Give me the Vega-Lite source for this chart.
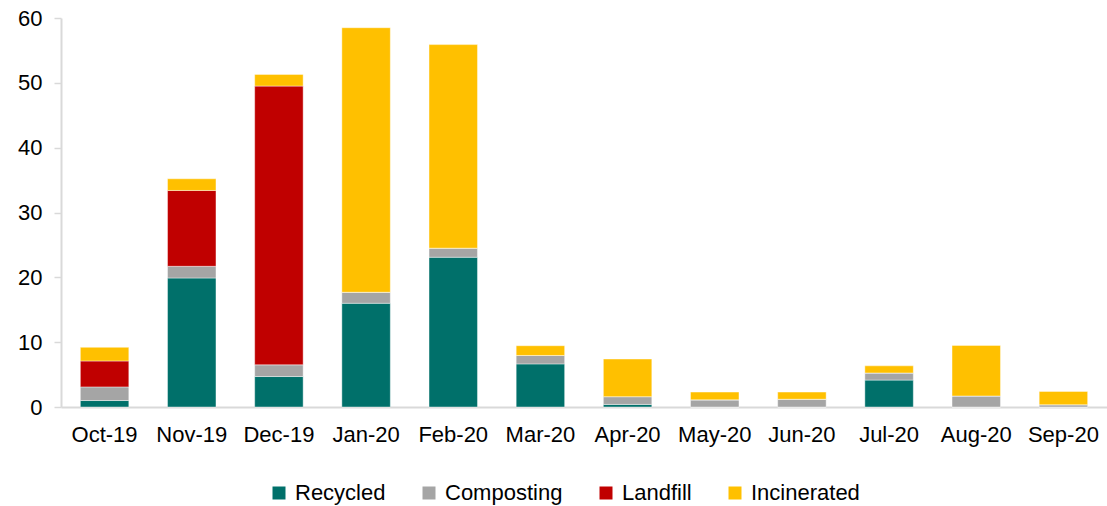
{
  "$schema": "https://vega.github.io/schema/vega-lite/v6.json",
  "width": 1046,
  "height": 389,
  "autosize": {"type": "none"},
  "padding": {"left": 61, "top": 18, "right": 0, "bottom": 99},
  "background": "white",
  "config": {
    "view": {"stroke": null},
    "font": "Liberation Sans",
    "axis": {"labelFont": "Liberation Sans", "labelColor": "#000000"},
    "legend": {"labelFont": "Liberation Sans", "labelColor": "#000000"}
  },
  "data": {
    "values": [
      {"month": "Oct-19", "type": "Recycled", "value": 1.0},
      {"month": "Oct-19", "type": "Composting", "value": 2.1},
      {"month": "Oct-19", "type": "Landfill", "value": 4.0},
      {"month": "Oct-19", "type": "Incinerated", "value": 2.1},
      {"month": "Nov-19", "type": "Recycled", "value": 19.9},
      {"month": "Nov-19", "type": "Composting", "value": 1.8},
      {"month": "Nov-19", "type": "Landfill", "value": 11.7},
      {"month": "Nov-19", "type": "Incinerated", "value": 1.8},
      {"month": "Dec-19", "type": "Recycled", "value": 4.7},
      {"month": "Dec-19", "type": "Composting", "value": 1.8},
      {"month": "Dec-19", "type": "Landfill", "value": 43.0},
      {"month": "Dec-19", "type": "Incinerated", "value": 1.8},
      {"month": "Jan-20", "type": "Recycled", "value": 16.0},
      {"month": "Jan-20", "type": "Composting", "value": 1.7},
      {"month": "Jan-20", "type": "Landfill", "value": 0},
      {"month": "Jan-20", "type": "Incinerated", "value": 40.8},
      {"month": "Feb-20", "type": "Recycled", "value": 23.1},
      {"month": "Feb-20", "type": "Composting", "value": 1.4},
      {"month": "Feb-20", "type": "Landfill", "value": 0},
      {"month": "Feb-20", "type": "Incinerated", "value": 31.4},
      {"month": "Mar-20", "type": "Recycled", "value": 6.65},
      {"month": "Mar-20", "type": "Composting", "value": 1.3},
      {"month": "Mar-20", "type": "Landfill", "value": 0},
      {"month": "Mar-20", "type": "Incinerated", "value": 1.5},
      {"month": "Apr-20", "type": "Recycled", "value": 0.4},
      {"month": "Apr-20", "type": "Composting", "value": 1.2},
      {"month": "Apr-20", "type": "Landfill", "value": 0},
      {"month": "Apr-20", "type": "Incinerated", "value": 5.8},
      {"month": "May-20", "type": "Recycled", "value": 0},
      {"month": "May-20", "type": "Composting", "value": 1.1},
      {"month": "May-20", "type": "Landfill", "value": 0},
      {"month": "May-20", "type": "Incinerated", "value": 1.2},
      {"month": "Jun-20", "type": "Recycled", "value": 0},
      {"month": "Jun-20", "type": "Composting", "value": 1.2},
      {"month": "Jun-20", "type": "Landfill", "value": 0},
      {"month": "Jun-20", "type": "Incinerated", "value": 1.1},
      {"month": "Jul-20", "type": "Recycled", "value": 4.15},
      {"month": "Jul-20", "type": "Composting", "value": 1.1},
      {"month": "Jul-20", "type": "Landfill", "value": 0},
      {"month": "Jul-20", "type": "Incinerated", "value": 1.1},
      {"month": "Aug-20", "type": "Recycled", "value": 0},
      {"month": "Aug-20", "type": "Composting", "value": 1.7},
      {"month": "Aug-20", "type": "Landfill", "value": 0},
      {"month": "Aug-20", "type": "Incinerated", "value": 7.8},
      {"month": "Sep-20", "type": "Recycled", "value": 0},
      {"month": "Sep-20", "type": "Composting", "value": 0.35},
      {"month": "Sep-20", "type": "Landfill", "value": 0},
      {"month": "Sep-20", "type": "Incinerated", "value": 2.05}
    ]
  },
  "transform": [
    {"calculate": "indexof(['Recycled', 'Composting', 'Landfill', 'Incinerated'], datum.type)", "as": "stackIndex"}
  ],
  "mark": {"type": "bar", "stroke": "#ffffff", "strokeWidth": 0.6, "strokeOpacity": 0.7},
  "encoding": {
    "x": {
      "field": "month",
      "type": "nominal",
      "sort": null,
      "scale": {"paddingInner": 0.444, "paddingOuter": 0.222},
      "axis": {
        "title": null,
        "labelAngle": 0,
        "labelFontSize": 22,
        "labelPadding": 17,
        "ticks": false,
        "domainColor": "#d9d9d9",
        "domainWidth": 2
      }
    },
    "y": {
      "field": "value",
      "type": "quantitative",
      "stack": "zero",
      "scale": {"domain": [0, 60], "nice": false},
      "axis": {
        "title": null,
        "values": [0, 10, 20, 30, 40, 50, 60],
        "grid": false,
        "labelFontSize": 22,
        "labelPadding": 12,
        "tickSize": 7,
        "tickColor": "#d9d9d9",
        "tickWidth": 1.5,
        "domainColor": "#d9d9d9",
        "domainWidth": 2
      }
    },
    "color": {
      "field": "type",
      "type": "nominal",
      "sort": ["Recycled", "Composting", "Landfill", "Incinerated"],
      "scale": {
        "domain": ["Recycled", "Composting", "Landfill", "Incinerated"],
        "range": ["#00706A", "#A5A5A5", "#C00000", "#FFC000"]
      },
      "legend": {
        "title": null,
        "orient": "none",
        "direction": "horizontal",
        "legendX": 207,
        "legendY": 464,
        "symbolType": "square",
        "symbolSize": 169,
        "symbolStrokeWidth": 0,
        "labelFontSize": 22,
        "labelOffset": 5,
        "columnPadding": 32
      }
    },
    "order": {"field": "stackIndex", "type": "quantitative", "sort": "ascending"}
  }
}
